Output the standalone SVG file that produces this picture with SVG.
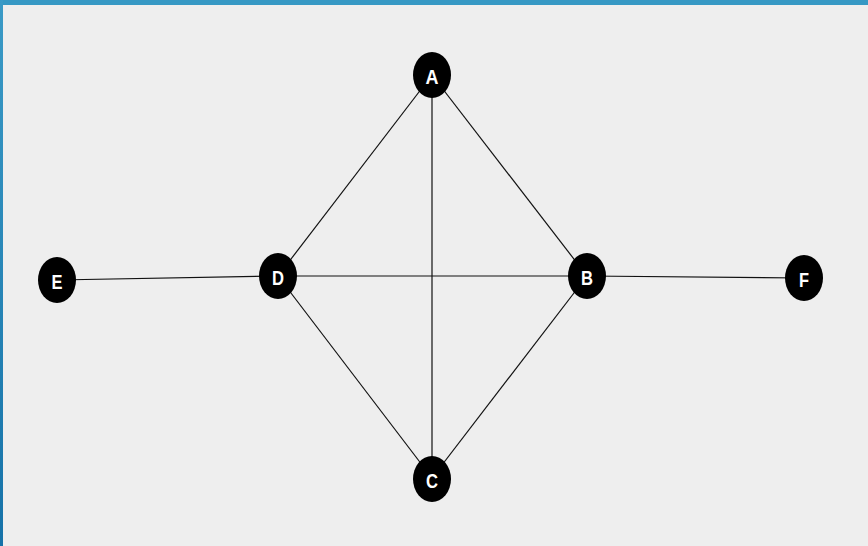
<svg xmlns="http://www.w3.org/2000/svg" width="868" height="546" viewBox="0 0 868 546">
<style>
.n ellipse{fill:#000}
.n text{fill:#fff;font-family:"Liberation Sans",Arial,sans-serif;font-weight:bold;font-size:21px;text-anchor:middle;dominant-baseline:central}
.e line{stroke:#111;stroke-width:1.2}
</style>
<defs>
<linearGradient id="lb" x1="0" y1="0" x2="0" y2="1"><stop offset="0" stop-color="#3a9ac6"/><stop offset="1" stop-color="#1672a8"/></linearGradient>
</defs>
<rect width="868" height="546" fill="#eeeeee"/>
<rect x="0" y="0" width="868" height="5" fill="#3698c4"/>
<rect x="0" y="0" width="3" height="546" fill="url(#lb)"/>
<g class="e">
<line x1="432" y1="75" x2="278" y2="276"/>
<line x1="432" y1="75" x2="587" y2="276"/>
<line x1="432" y1="75" x2="432" y2="478"/>
<line x1="278" y1="276" x2="587" y2="276"/>
<line x1="278" y1="276" x2="432" y2="478"/>
<line x1="587" y1="276" x2="432" y2="478"/>
<line x1="57" y1="280" x2="278" y2="276"/>
<line x1="587" y1="276" x2="804" y2="278"/>
</g>
<g id="A" class="n"><ellipse cx="432" cy="75" rx="19" ry="23"/><text x="432" y="76" textLength="13" lengthAdjust="spacingAndGlyphs">A</text></g>
<g id="B" class="n"><ellipse cx="587" cy="276" rx="19" ry="23"/><text x="587" y="277" textLength="12" lengthAdjust="spacingAndGlyphs">B</text></g>
<g id="C" class="n"><ellipse cx="432" cy="479" rx="19" ry="23"/><text x="432" y="480" textLength="12" lengthAdjust="spacingAndGlyphs">C</text></g>
<g id="D" class="n"><ellipse cx="278" cy="276" rx="19" ry="23"/><text x="278" y="277" textLength="12" lengthAdjust="spacingAndGlyphs">D</text></g>
<g id="E" class="n"><ellipse cx="57" cy="280" rx="19" ry="23"/><text x="57" y="281" textLength="11" lengthAdjust="spacingAndGlyphs">E</text></g>
<g id="F" class="n"><ellipse cx="804" cy="278" rx="19" ry="23"/><text x="804" y="279" textLength="10" lengthAdjust="spacingAndGlyphs">F</text></g>
</svg>
